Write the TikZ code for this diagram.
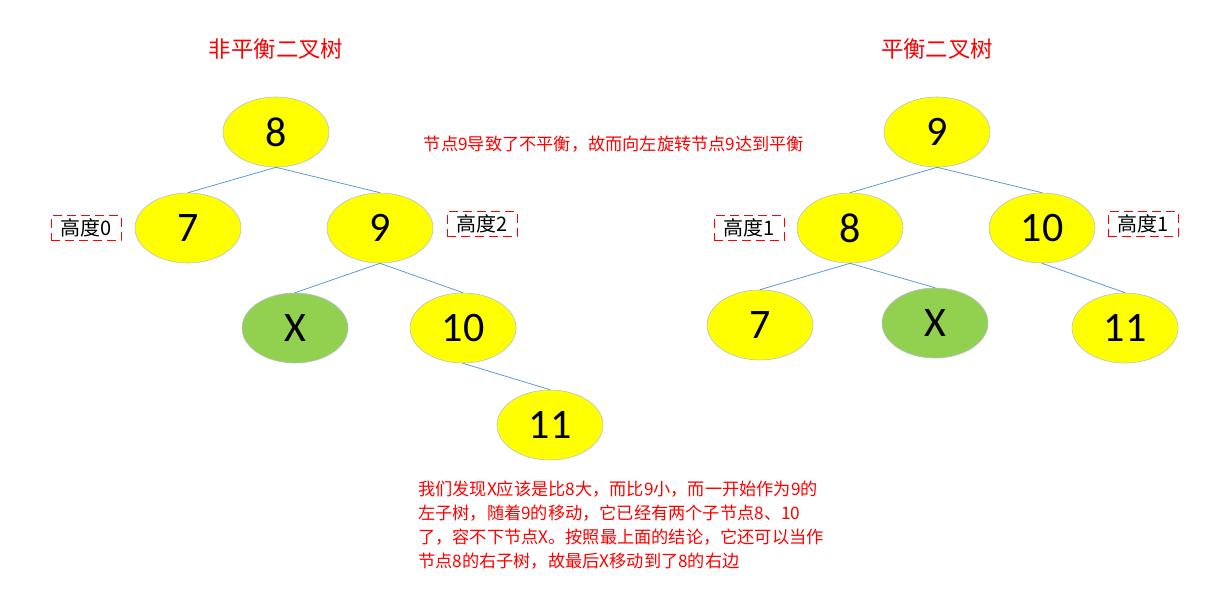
\documentclass[tikz,border=0pt]{standalone}
\usepackage{fontspec}
\setmainfont{Carlito}
\newfontfamily\cjk{Noto Sans CJK SC}
\usetikzlibrary{shapes.geometric}
\definecolor{nodeyellow}{HTML}{FFFF00}
\definecolor{nodegreen}{HTML}{92D050}
\definecolor{edgeblue}{HTML}{5B9BD5}
\definecolor{nodeborder}{HTML}{B4C0D0}
\tikzset{
  treenode/.style={ellipse, draw=nodeborder, line width=0.6pt, fill=nodeyellow,
    minimum width=106pt, minimum height=70pt, inner sep=0pt,
    font=\fontsize{42}{46}\selectfont},
  greennode/.style={treenode, fill=nodegreen},
  edge/.style={draw=edgeblue, line width=0.8pt},
  heightlabel/.style={draw=red, dash pattern=on 9pt off 5pt, line width=0.8pt,
    font=\cjk\fontsize{20}{22}\selectfont, minimum width=70pt, minimum height=25pt, inner sep=1pt},
  titletext/.style={text=red, font=\cjk\fontsize{22.4}{26}\selectfont},
  notetext/.style={text=red, font=\cjk\fontsize{17.2}{24}\selectfont},
}
\begin{document}
\begin{tikzpicture}[x=1pt, y=-1pt]
\useasboundingbox (0,0) rectangle (1230,599);
% left tree
\node[titletext] (t1) at (276,49) {非平衡二叉树};
\node[treenode] (a8) at (276,132) {8};
\node[treenode] (a7) at (188,228) {7};
\node[treenode] (a9) at (380,228) {9};
\node[greennode] (aX) at (295,328) {X};
\node[treenode] (a10) at (463,328) {10};
\node[treenode] (a11) at (550,425) {11};
\draw[edge] (a8.south) -- (a7.north);
\draw[edge] (a8.south) -- (a9.north);
\draw[edge] (a9.south) -- (aX.north);
\draw[edge] (a9.south) -- (a10.north);
\draw[edge] (a10.south) -- (a11.north);
\node[heightlabel] (h0) at (86,228) {高度0};
\node[heightlabel] (h2) at (482,224) {高度2};
% right tree
\node[titletext] (t2) at (937,49) {平衡二叉树};
\node[treenode] (b9) at (937,132) {9};
\node[treenode] (b8) at (850,228) {8};
\node[treenode] (b10) at (1042,228) {10};
\node[treenode] (b7) at (760,325) {7};
\node[greennode] (bX) at (935,323) {X};
\node[treenode] (b11) at (1125,328) {11};
\draw[edge] (b9.south) -- (b8.north);
\draw[edge] (b9.south) -- (b10.north);
\draw[edge] (b8.south) -- (b7.north);
\draw[edge] (b8.south) -- (bX.north);
\draw[edge] (b10.south) -- (b11.north);
\node[heightlabel] (h1a) at (749,228) {高度1};
\node[heightlabel] (h1b) at (1143,224) {高度1};
% notes
\node[notetext] (n1) at (614,144) {节点9导致了不平衡，故而向左旋转节点9达到平衡};
\node[notetext, anchor=north west, align=left, inner sep=0pt] (n2) at (418,481)
{我们发现X应该是比8大，而比9小，而一开始作为9的\\
左子树，随着9的移动，它已经有两个子节点8、10\\
了，容不下节点X。按照最上面的结论，它还可以当作\\
节点8的右子树，故最后X移动到了8的右边};
\end{tikzpicture}
\end{document}
